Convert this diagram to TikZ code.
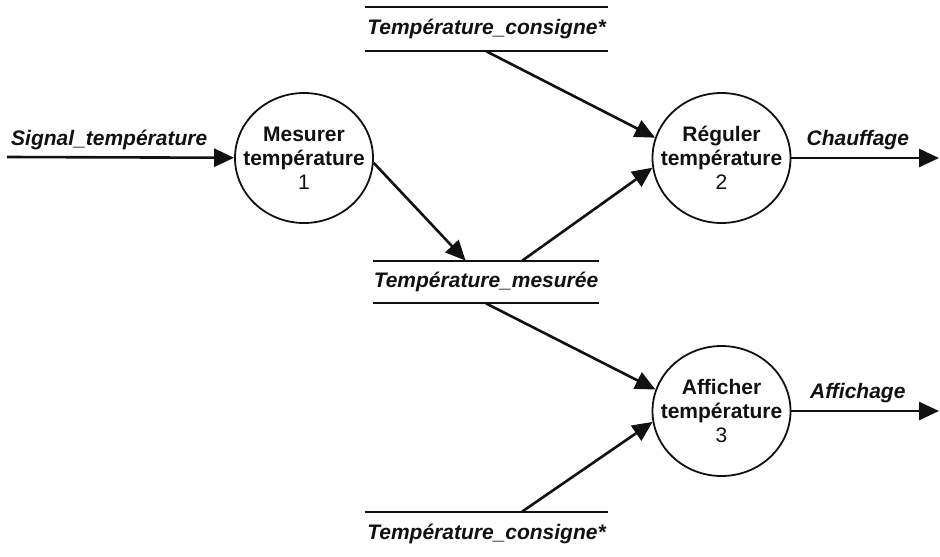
\documentclass[tikz,border=0pt]{standalone}
\usepackage{fontspec}
\setmainfont{Liberation Sans}
\usepackage{tikz}
\usetikzlibrary{arrows.meta,positioning,shapes.geometric,calc}
\definecolor{ink}{HTML}{111111}

\begin{document}
\begin{tikzpicture}[
  x=0.5pt, y=-0.5pt,
  every node/.style={font=\fontsize{10.5}{12}\selectfont, text=ink},
  process/.style={ellipse, draw=ink, line width=0.9pt, minimum width=69pt, minimum height=65pt, inner sep=0pt},
  proctext/.style={align=center, inner sep=0pt, font=\fontsize{10.5}{12}\selectfont\bfseries},
  store/.style={minimum width=121.5pt, minimum height=22pt, inner sep=0pt, font=\fontsize{10.5}{12}\selectfont\bfseries\itshape},
  storeline/.style={draw=ink, line width=1pt},
  flow/.style={-{Triangle[length=10pt, width=9pt]}, line width=1.3pt, draw=ink},
  flowlabel/.style={font=\fontsize{10.5}{12}\selectfont\bfseries\itshape, above}
]
\useasboundingbox (0,0) rectangle (940,556);

% processes
\node[process] (p1) at (304,158) {};
\node[proctext] (p1text) at (p1) {Mesurer\\température\\{\mdseries 1}};
\node[process] (p2) at (721.5,158) {};
\node[proctext] (p2text) at (p2) {Réguler\\température\\{\mdseries 2}};
\node[process] (p3) at (721.5,411) {};
\node[proctext] (p3text) at (p3) {Afficher\\température\\{\mdseries 3}};

% data stores
\node[store] (tc) at (486.5,29) {Température\_consigne*};
\draw[storeline] (tc.north west) -- (tc.north east) (tc.south west) -- (tc.south east);
\node[store, minimum width=113pt, minimum height=21pt] (tm) at (486,282) {Température\_mesurée};
\draw[storeline] (tm.north west) -- (tm.north east) (tm.south west) -- (tm.south east);
\node[store] (bc) at (486.5,534) {Température\_consigne*};
\draw[storeline] (bc.north west) -- (bc.north east);

% free ends
\coordinate (sig) at (7,157);
\coordinate (chauf) at (939,158);
\coordinate (affi) at (939,411);

% flows
\draw[flow] (sig) -- node[flowlabel, pos=0.45]{Signal\_température} (p1);
\draw[flow] (tc.south) -- (p2.163);
\draw[flow] (p1.-4) -- ($(tm.north west)!0.41!(tm.north east)$);
\draw[flow] ($(tm.north west)!0.66!(tm.north east)$) -- (p2.188);
\draw[flow] (tm.south) -- (p3.162);
\draw[flow] ($(bc.north west)!0.646!(bc.north east)$) -- (p3.189);
\draw[flow] (p2) -- node[flowlabel, pos=0.45]{Chauffage} (chauf);
\draw[flow] (p3) -- node[flowlabel, pos=0.45]{Affichage} (affi);
\end{tikzpicture}
\end{document}
